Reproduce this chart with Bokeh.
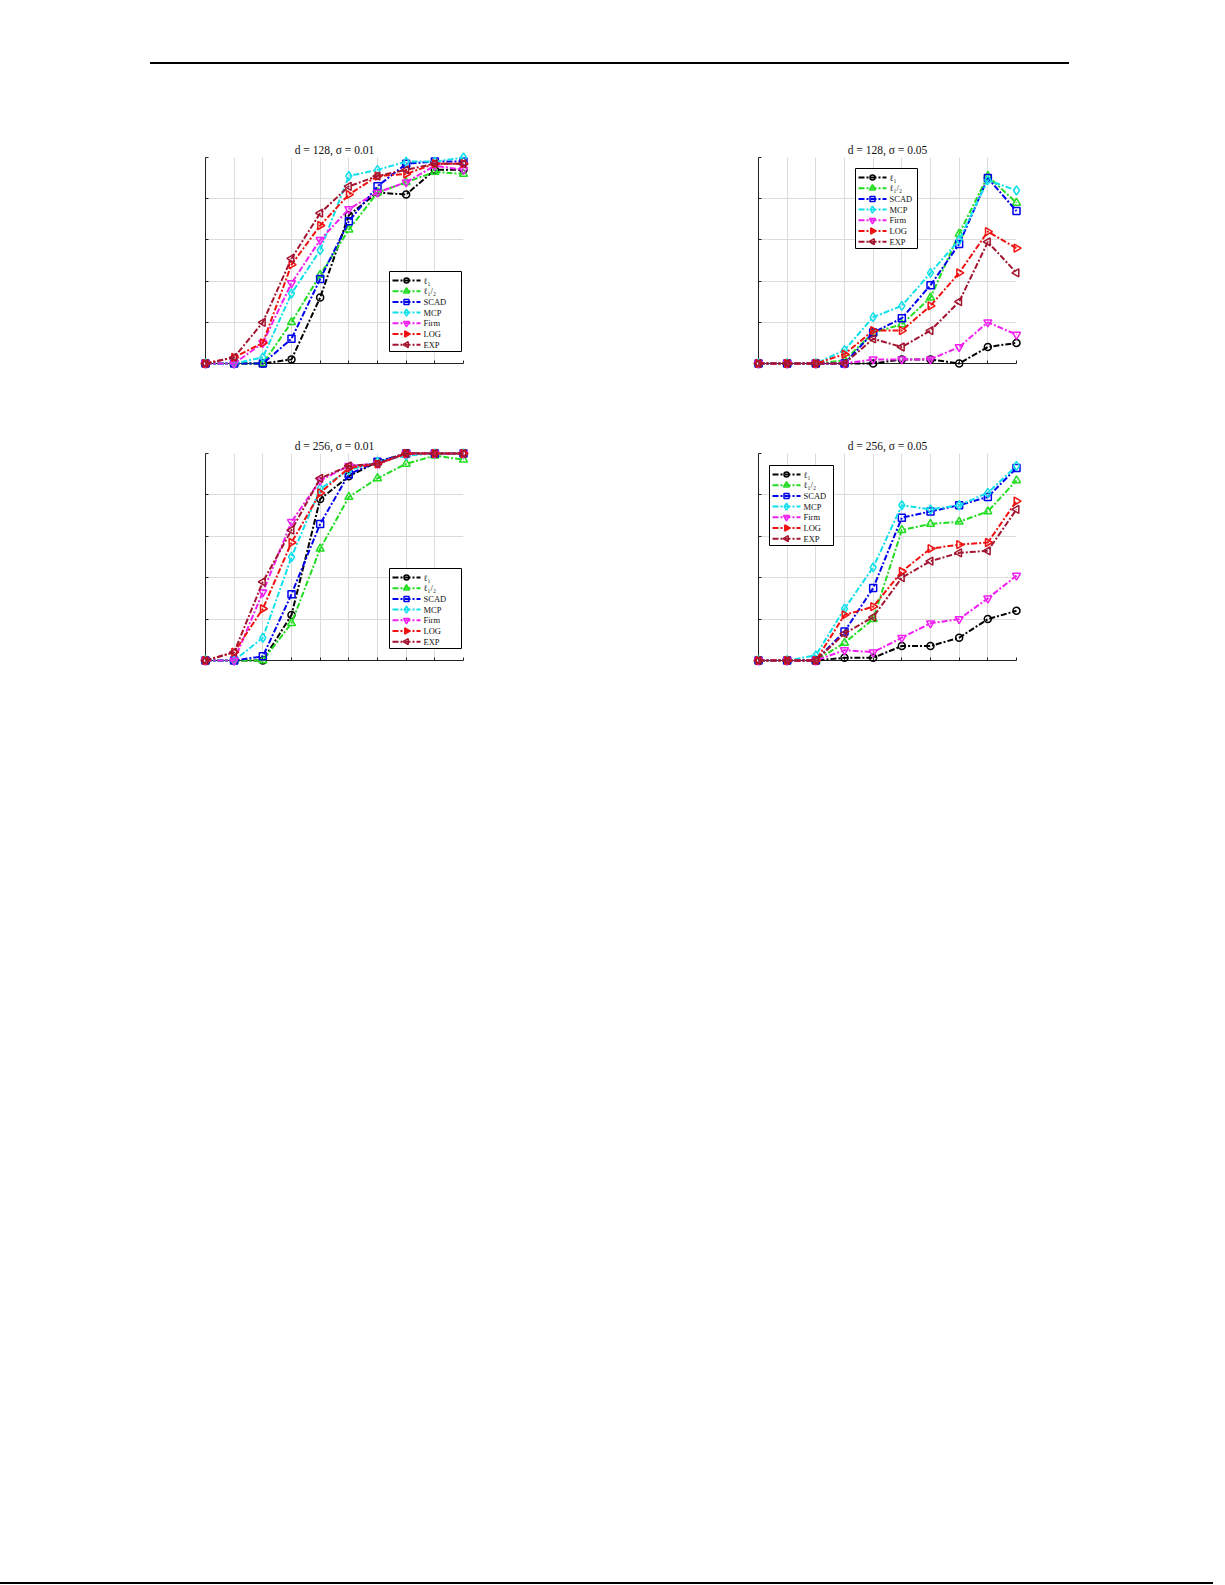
import math
from bokeh.plotting import figure
from bokeh.models import FixedTicker, CustomJSTickFormatter, Range1d, Spacer, Div
from bokeh.core.properties import value
from bokeh.layouts import column, row
from bokeh.embed import file_html
from bokeh.resources import INLINE

levels = [1, 2, 3, 4, 5, 6, 7, 8, 9, 10]
y_ticks = [0, 0.2, 0.4, 0.6, 0.8, 1.0]
methods = ["ℓ₁", "ℓ₁/₂", "SCAD", "MCP", "Firm", "LOG", "EXP"]
titles = ["d = 128, σ = 0.01", "d = 128, σ = 0.05", "d = 256, σ = 0.01", "d = 256, σ = 0.05"]

# d = 128, sigma = 0.01
a_l1 = [0, 0, 0, 0.02, 0.32, 0.72, 0.83, 0.82, 0.94, 0.94]
a_lhalf = [0, 0, 0, 0.20, 0.43, 0.65, 0.83, 0.88, 0.93, 0.92]
a_scad = [0, 0, 0, 0.12, 0.41, 0.69, 0.86, 0.97, 0.98, 0.98]
a_mcp = [0, 0, 0.03, 0.34, 0.55, 0.91, 0.94, 0.98, 0.98, 1.0]
a_firm = [0, 0, 0.10, 0.39, 0.60, 0.75, 0.83, 0.88, 0.96, 0.94]
a_log = [0, 0.03, 0.10, 0.48, 0.67, 0.82, 0.91, 0.92, 0.97, 0.97]
a_exp = [0, 0.03, 0.20, 0.51, 0.73, 0.86, 0.91, 0.94, 0.97, 0.97]

# d = 128, sigma = 0.05
b_l1 = [0, 0, 0, 0, 0, 0.02, 0.02, 0, 0.08, 0.10]
b_lhalf = [0, 0, 0, 0.015, 0.15, 0.19, 0.32, 0.63, 0.91, 0.78]
b_scad = [0, 0, 0, 0, 0.15, 0.22, 0.38, 0.58, 0.90, 0.74]
b_mcp = [0, 0, 0, 0.065, 0.225, 0.28, 0.44, 0.60, 0.89, 0.84]
b_firm = [0, 0, 0, 0, 0.02, 0.02, 0.02, 0.08, 0.20, 0.14]
b_log = [0, 0, 0, 0.045, 0.16, 0.16, 0.28, 0.44, 0.64, 0.56]
b_exp = [0, 0, 0, 0, 0.12, 0.08, 0.16, 0.30, 0.59, 0.44]

# d = 256, sigma = 0.01
c_l1 = [0, 0, 0, 0.22, 0.78, 0.89, 0.96, 1.0, 1.0, 1.0]
c_lhalf = [0, 0, 0, 0.18, 0.54, 0.79, 0.88, 0.95, 0.99, 0.97]
c_scad = [0, 0, 0.02, 0.32, 0.66, 0.90, 0.96, 1.0, 1.0, 1.0]
c_mcp = [0, 0, 0.11, 0.50, 0.83, 0.92, 0.96, 0.99, 1.0, 1.0]
c_firm = [0, 0, 0.33, 0.67, 0.87, 0.94, 0.95, 1.0, 1.0, 1.0]
c_log = [0, 0.04, 0.25, 0.57, 0.81, 0.93, 0.95, 1.0, 1.0, 1.0]
c_exp = [0, 0.04, 0.38, 0.63, 0.88, 0.94, 0.95, 1.0, 1.0, 1.0]

# d = 256, sigma = 0.05
d_l1 = [0, 0, 0, 0.013, 0.013, 0.07, 0.07, 0.11, 0.20, 0.24]
d_lhalf = [0, 0, 0, 0.085, 0.20, 0.63, 0.66, 0.67, 0.72, 0.87]
d_scad = [0, 0, 0, 0.14, 0.35, 0.69, 0.72, 0.75, 0.79, 0.93]
d_mcp = [0, 0, 0.025, 0.25, 0.45, 0.75, 0.73, 0.75, 0.81, 0.94]
d_firm = [0, 0, 0, 0.05, 0.04, 0.11, 0.18, 0.20, 0.30, 0.41]
d_log = [0, 0, 0, 0.22, 0.26, 0.43, 0.54, 0.56, 0.57, 0.77]
d_exp = [0, 0, 0, 0.13, 0.21, 0.40, 0.48, 0.52, 0.53, 0.73]

colors = ["#000000", "#22dd22", "#0000ee", "#11e0ea", "#f020f0", "#f01010", "#a2142f"]
markers = ["circle", "triangle", "square", "diamond", "inverted_triangle", "triangle", "triangle"]
angles = [0, 0, 0, 0, 0, -math.pi / 2, math.pi / 2]
sizes = [7, 8, 7, 9, 8, 8, 8]
legend_sizes = [5, 6, 5, 7, 6, 6, 6]

SERIF = "Liberation Serif"
DASH = "6 2 2 2"
FW = 258


def make_panel(title, series, legend_left, legend_bottom, legend_w, mb_left, mb_right, mb_top, mb_bottom, fh):
    p = figure(frame_width=FW, frame_height=fh, x_range=(1, 10), y_range=(0, 1),
               output_backend="svg", toolbar_location=None,
               min_border_left=mb_left, min_border_right=mb_right,
               min_border_top=mb_top, min_border_bottom=mb_bottom)
    p.title.text = title
    p.title.text_font = SERIF
    p.title.text_font_size = "11.5px"
    p.title.text_font_style = "normal"
    p.title.text_color = "#111111"
    p.title.align = "center"
    p.title.standoff = 4
    p.outline_line_color = None
    p.xaxis.ticker = FixedTicker(ticks=levels)
    p.yaxis.ticker = FixedTicker(ticks=y_ticks)
    p.axis.formatter = CustomJSTickFormatter(code="return ''")
    p.axis.major_tick_in = 3
    p.axis.major_tick_out = 0
    p.axis.minor_tick_in = 0
    p.axis.minor_tick_out = 0
    p.axis.major_label_standoff = 0
    p.axis.axis_line_color = "#222222"
    p.axis.major_tick_line_color = "#222222"
    p.grid.grid_line_color = "#dcdcdc"
    p.grid.grid_line_width = 1

    for vals, c, m, a, s in zip(series, colors, markers, angles, sizes):
        p.line(levels, vals, line_color=c, line_width=2, line_dash=DASH, level="overlay")
        p.scatter(levels, vals, marker=m, angle=a, size=s, line_color=c, fill_color=None,
                  line_width=1.5, level="overlay")

    # legend box drawn in frame pixel units (1 unit = 1 px)
    p.extra_x_ranges = {"px": Range1d(0, FW)}
    p.extra_y_ranges = {"py": Range1d(0, fh)}
    box_h = 80
    top = legend_bottom + box_h
    p.quad(left=[legend_left], right=[legend_left + legend_w], bottom=[legend_bottom], top=[top],
           fill_color="white", line_color="black", line_width=1,
           x_range_name="px", y_range_name="py", level="overlay")
    for i, (name, c, m, a, s) in enumerate(zip(methods, colors, markers, angles, legend_sizes)):
        yc = top - 9 - i * 10.7
        p.line([legend_left + 3, legend_left + 31], [yc, yc], line_color=c, line_width=2,
               line_dash=DASH, x_range_name="px", y_range_name="py", level="overlay")
        p.scatter([legend_left + 17], [yc], marker=m, angle=a, size=s, line_color=c, fill_color=None,
                  line_width=1.5, x_range_name="px", y_range_name="py", level="overlay")
        p.text([legend_left + 34], [yc], text=[name], text_font=value(SERIF), text_font_size="8.5px",
               text_baseline="middle", text_align="left", text_color="#111111",
               x_range_name="px", y_range_name="py", level="overlay")
    return p


p1 = make_panel(titles[0], [a_l1, a_lhalf, a_scad, a_mcp, a_firm, a_log, a_exp], 184, 12, 72, 205, 30, 93, 30, 206)
p2 = make_panel(titles[1], [b_l1, b_lhalf, b_scad, b_mcp, b_firm, b_log, b_exp], 97, 115, 62, 265, 30, 93, 30, 206)
p3 = make_panel(titles[2], [c_l1, c_lhalf, c_scad, c_mcp, c_firm, c_log, c_exp], 184, 12, 72, 205, 30, 60, 30, 207)
p4 = make_panel(titles[3], [d_l1, d_lhalf, d_scad, d_mcp, d_firm, d_log, d_exp], 11, 115, 64, 265, 30, 60, 30, 207)

header_rule = Div(text="", width=919, height=2, margin=0, styles={"background-color": "black"})
footer_rule = Div(text="", width=1213, height=2, margin=0, styles={"background-color": "black"})

page = column(
    Spacer(width=1213, height=62, margin=0),
    row(Spacer(width=150, height=2, margin=0), header_rule, spacing=0),
    row(p1, p2, spacing=0),
    row(p3, p4, spacing=0),
    Spacer(width=1213, height=892, margin=0),
    footer_rule,
    spacing=0,
)

open("out.html", "w").write(file_html(page, INLINE))
